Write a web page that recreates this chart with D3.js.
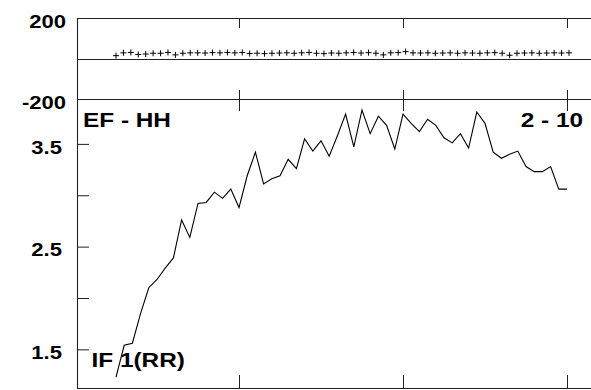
<!DOCTYPE html>
<html>
<head>
<meta charset="utf-8">
<script src="https://cdn.jsdelivr.net/npm/d3@7"></script>
<style>
  body { margin: 0; background: #fff; }
  text { font-family: "Liberation Sans", Arial, sans-serif; font-weight: bold; fill: #000; }
</style>
</head>
<body>
<div id="chart"></div>
<script>
// ---------------- data ----------------
var xValues = [5, 6, 7, 8, 9, 10, 11, 12, 13, 14, 15, 16, 17, 18, 19, 20, 21, 22, 23, 24,
    25, 26, 27, 28, 29, 30, 31, 32, 33, 34, 35, 36, 37, 38, 39, 40, 41, 42, 43, 44,
    45, 46, 47, 48, 49, 50, 51, 52, 53, 54, 55, 56, 57, 58, 59, 60];
var ifValues = [1.23, 1.54, 1.56, 1.85, 2.10, 2.18, 2.29, 2.39, 2.76, 2.59, 2.92, 2.93, 3.03, 2.97, 3.06, 2.88, 3.19, 3.42, 3.11, 3.16,
    3.19, 3.35, 3.26, 3.55, 3.43, 3.53, 3.38, 3.58, 3.79, 3.47, 3.83, 3.60, 3.77, 3.68, 3.45, 3.79, 3.70, 3.62, 3.74, 3.68,
    3.56, 3.51, 3.60, 3.46, 3.81, 3.70, 3.42, 3.36, 3.40, 3.43, 3.28, 3.23, 3.23, 3.28, 3.06, 3.06];
// residuals shown as crosses in the top panel
var residuals = [14, 28, 30, 20, 22, 26, 26, 30, 18, 26, 28, 28, 27, 29, 28, 30, 28, 30, 25, 26, 24,
    26, 27, 28, 26, 28, 30, 26, 24, 27, 26, 28, 30, 27, 29, 26, 18, 28, 29, 34, 28, 27,
    28, 26, 27, 28, 26, 28, 27, 26, 28, 29, 26, 16, 26, 27, 28, 26, 27, 28, 27, 28];
var yTicks = [1.5, 2, 2.5, 3, 3.5];
var residTicks = [-200, 200];
var xTicks = [20, 40, 60];
var cornerLeft = "EF - HH";
var cornerRight = "2 - 10";
var seriesLabel = "IF 1(RR)";

// ---------------- svg ----------------
const width = 591;
const height = 390;
const left = 77;
const stretch = 1.16; // text in the original is a bit wider than Arial
const svg = d3.select("#chart").append("svg")
    .attr("width", width)
    .attr("height", height);

// ---------------- scales ----------------
var x = d3.scaleLinear().domain([20, 60]).range([239, 567]);
var yTop = d3.scaleLinear().domain([-200, 200]).range([99, 18]);
var y = d3.scaleLinear().domain([1.124, 3.937]).range([388, 99]);
var xResid = d3.scaleLinear().domain([0, residuals.length - 1]).range([x(5), x(60) + 2]);

// ---------------- frame ----------------
var frame = svg.append("g").attr("stroke", "#222").attr("stroke-width", 1.1);
[18, yTop(0), 99, 388].forEach(function(v) {
    frame.append("line")
        .attr("x1", left).attr("x2", width)
        .attr("y1", Math.round(v) + 0.5).attr("y2", Math.round(v) + 0.5);
});
frame.append("line")
    .attr("x1", left + 0.5).attr("x2", left + 0.5)
    .attr("y1", 18).attr("y2", 389);

function clean(g) {
    g.select(".domain").remove();
    g.selectAll(".tick line").attr("stroke", "#222");
    g.selectAll("text").attr("font-family", null).attr("font-size", null);
}

function widen(sel) {
    sel.each(function() {
        var len = this.getComputedTextLength();
        if (len > 0) d3.select(this).attr("textLength", len * stretch).attr("lengthAdjust", "spacingAndGlyphs");
    });
}

// ---------------- axes ----------------
svg.append("g").attr("transform", "translate(0,18)")
    .call(d3.axisTop(x).tickValues(xTicks).tickSize(-10).tickFormat(""))
    .call(clean);
svg.append("g").attr("transform", "translate(0,99)")
    .call(d3.axisBottom(x).tickValues(xTicks).tickSize(-9).tickFormat(""))
    .call(clean);
svg.append("g").attr("transform", "translate(0,99)")
    .call(d3.axisTop(x).tickValues(xTicks).tickSize(-12).tickFormat(""))
    .call(clean);
svg.append("g").attr("transform", "translate(0,388)")
    .call(d3.axisBottom(x).tickValues(xTicks).tickSize(-13).tickFormat(""))
    .call(clean);

svg.append("g").attr("transform", "translate(" + left + ",0)")
    .call(d3.axisLeft(yTop).tickValues(residTicks).tickSize(-8).tickPadding(11)
        .tickFormat(function(d) { return String(d); }))
    .call(clean)
    .selectAll("text").attr("dy", "0.48em").style("font-size", "19px")
    .call(widen);

svg.append("g").attr("transform", "translate(" + left + ",0)")
    .call(d3.axisLeft(y).tickValues(yTicks).tickSize(-12).tickPadding(15)
        .tickFormat(function(d) { return (d * 2) % 2 === 1 ? d3.format(".1f")(d) : ""; }))
    .call(clean)
    .selectAll("text").attr("dy", "0.48em").style("font-size", "19px")
    .call(widen);

// ---------------- marks ----------------
svg.append("g")
    .selectAll("path")
    .data(residuals)
    .join("path")
    .attr("transform", function(d, i) { return "translate(" + xResid(i) + "," + yTop(d) + ")"; })
    .attr("d", "M-3,0H3M0,-3V3")
    .attr("stroke", "#000")
    .attr("stroke-width", 1)
    .attr("fill", "none");

var line = d3.line()
    .x(function(d, i) { return x(xValues[i]); })
    .y(function(d) { return y(d); });

svg.append("path")
    .attr("fill", "none")
    .attr("stroke", "#000")
    .attr("stroke-width", 1.1)
    .attr("stroke-linejoin", "miter")
    .attr("d", line(ifValues));

// ---------------- labels ----------------
svg.append("text").attr("x", 83).attr("y", 126.5)
    .style("font-size", "21px").text(cornerLeft).call(widen);
svg.append("text").attr("x", 583).attr("y", 126.5)
    .attr("text-anchor", "end")
    .style("font-size", "21px").text(cornerRight).call(widen);
svg.append("text").attr("x", 91.5).attr("y", 366.5)
    .style("font-size", "21px").text(seriesLabel).call(widen);
</script>
</body>
</html>
